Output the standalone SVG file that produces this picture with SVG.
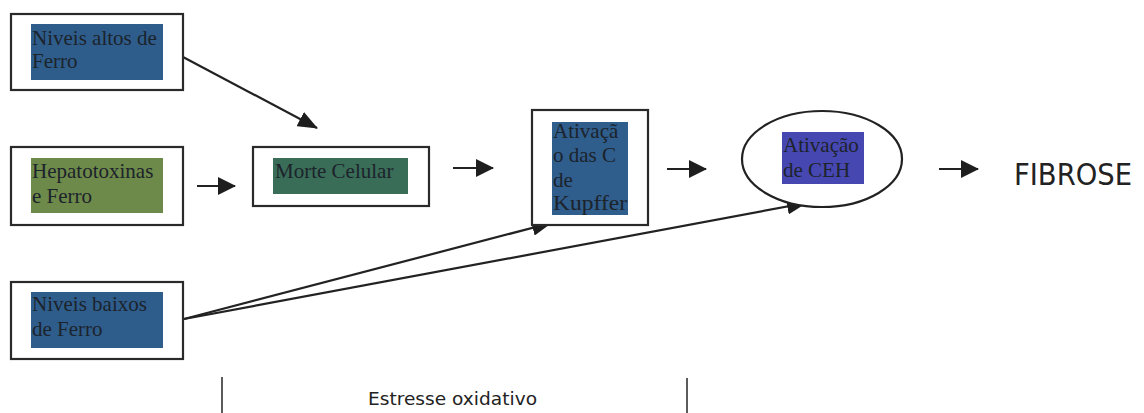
<svg xmlns="http://www.w3.org/2000/svg" width="1144" height="413" viewBox="0 0 1144 413">
<defs>
<marker id="ah" viewBox="0 0 20 16" refX="19" refY="8" markerWidth="20" markerHeight="16" markerUnits="userSpaceOnUse" orient="auto">
<path d="M0,0 L20,8 L0,16 z" fill="#1e1e1e"/>
</marker>
<marker id="ahs" viewBox="0 0 18 18" refX="17" refY="9" markerWidth="18" markerHeight="18" markerUnits="userSpaceOnUse" orient="auto">
<path d="M0,0 L18,9 L0,18 z" fill="#1e1e1e"/>
</marker>
</defs>
<style>
.frame{fill:#fff;stroke:#2a2a2a;stroke-width:2.2}
.lbl{font-family:"Liberation Serif","Times New Roman",serif;font-size:21px;fill:#1c232b}
.con{stroke:#222;stroke-width:2.2;fill:none}
.sans{font-family:"DejaVu Sans",Verdana,sans-serif;fill:#222}
</style>
<rect width="1144" height="413" fill="#fff"/>

<g id="connectors">
<line class="con" x1="183" y1="57" x2="317" y2="128" marker-end="url(#ah)"/>
<line class="con" x1="197" y1="186" x2="235" y2="186" marker-end="url(#ahs)"/>
<line class="con" x1="453" y1="168" x2="493" y2="168" marker-end="url(#ahs)"/>
<line class="con" x1="667" y1="169" x2="706" y2="169" marker-end="url(#ahs)"/>
<line class="con" x1="939" y1="169" x2="978" y2="169" marker-end="url(#ahs)"/>
<line class="con" x1="184" y1="319" x2="551" y2="223" marker-end="url(#ah)"/>
<line class="con" x1="184" y1="319" x2="806" y2="203" marker-end="url(#ah)"/>
</g>

<g id="node-niveis-altos">
<rect class="frame" x="11" y="14" width="172" height="76"/>
<rect x="31" y="24" width="132" height="56" fill="#2e5d8c"/>
<text class="lbl" x="32" y="45">Niveis altos de</text>
<text class="lbl" x="32" y="68">Ferro</text>
</g>

<g id="node-hepatotoxinas">
<rect class="frame" x="11" y="147" width="172" height="78"/>
<rect x="31" y="158" width="132" height="55" fill="#6e8a4a"/>
<text class="lbl" x="32" y="178">Hepatotoxinas</text>
<text class="lbl" x="32" y="203">e Ferro</text>
</g>

<g id="node-morte-celular">
<rect class="frame" x="253" y="147" width="176" height="59"/>
<rect x="273" y="158" width="135" height="36" fill="#3a6d58"/>
<text class="lbl" x="275" y="178">Morte Celular</text>
</g>

<g id="node-kupffer">
<rect class="frame" x="532" y="110" width="116" height="115"/>
<rect x="552" y="122" width="76" height="93" fill="#2f5d8c"/>
<text class="lbl" x="553" y="138">Ativaçã</text>
<text class="lbl" x="553" y="162">o das C</text>
<text class="lbl" x="553" y="187">de</text>
<text class="lbl" x="553" y="210" textLength="74" lengthAdjust="spacingAndGlyphs">Kupffer</text>
</g>

<g id="node-ceh">
<ellipse cx="822" cy="159" rx="80" ry="48" fill="#fff" stroke="#222" stroke-width="2.2"/>
<rect x="782" y="132" width="82" height="52" fill="#4747b2"/>
<text class="lbl" x="783" y="152">Ativação</text>
<text class="lbl" x="783" y="177">de CEH</text>
</g>

<g id="node-niveis-baixos">
<rect class="frame" x="11" y="282" width="172" height="77"/>
<rect x="31" y="292" width="132" height="56" fill="#2e5d8c"/>
<text class="lbl" x="32" y="311">Niveis baixos</text>
<text class="lbl" x="32" y="336">de Ferro</text>
</g>

<g id="node-fibrose">
<text class="sans" x="1014" y="185" font-size="30" textLength="118" lengthAdjust="spacingAndGlyphs">FIBROSE</text>
</g>

<g id="annotation-estresse">
<line x1="222" y1="377" x2="222" y2="413" stroke="#333" stroke-width="1.6"/>
<line x1="687" y1="378" x2="687" y2="413" stroke="#333" stroke-width="1.6"/>
<text class="sans" x="368" y="405" font-size="18.5" textLength="169" lengthAdjust="spacingAndGlyphs">Estresse oxidativo</text>
</g>
</svg>
